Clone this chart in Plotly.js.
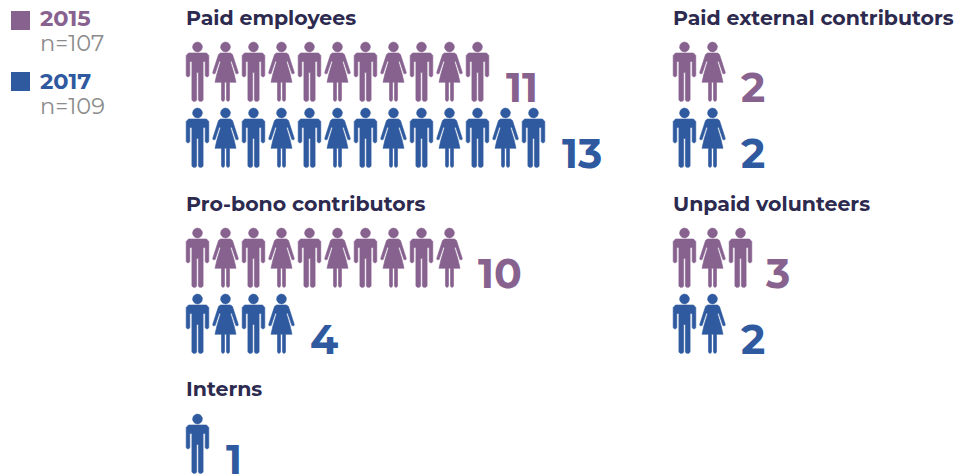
<!DOCTYPE html>
<html><head><meta charset="utf-8">
<script src="https://cdn.plot.ly/plotly-3.0.1.min.js"></script>
<style>html,body{margin:0;padding:0;background:#fff}#c{width:961px;height:474px}</style></head>
<body><div id="c"></div>
<script>
// Data
const categories = ["Paid employees","Pro-bono contributors","Interns","Paid external contributors","Unpaid volunteers"];
const values2015 = [11,10,0,2,3];
const values2017 = [13,4,1,2,2];
const years = ["2015","2017"];
const sampleLabels = ["n=107","n=109"];

// Layout of the panels (in the plot's pixel-sized axis units)
const panelLeft = [186,186,186,673,673];
const titleY = [17,203,388,17,203];
const row2015Y = [47,233,null,47,233];
const row2017Y = [113,299,419,113,299];
const pitch = 28, numberGap = 10;
const PURPLE = "#87628f", BLUE = "#2f5a9f", DARK = "#2d2a4f", GREY = "#8b8b8b";
const FONT = "Montserrat, 'Open Sans', sans-serif";

// Pictogram outlines, relative to the head centre
const manHalf = [[0,6],[9,6],[11.3,8.5],[11.3,28.5],[10.3,29.8],[8.7,29.8],[7.7,28.5],[7.7,14.5],[5.6,14.5],[5.6,53],[4.4,54.3],[2,54.3],[0.9,53],[0.9,25.5],[0,25.5]];
const womanHalf = [[0,6],[5,6],[7,7.5],[12.8,25.5],[12.3,26.8],[10.4,26.6],[6.2,14],[5,15],[8.5,26.5],[10.5,35.3],[4,35.3],[4,53],[3,54.3],[2,54.3],[1,53],[1,35.3],[0,35.3]];
function mirror(h){ return h.concat(h.slice(1,-1).reverse().map(p=>[-p[0],p[1]])); }
const outlines = [mirror(manHalf), mirror(womanHalf)];
const head = []; for(let a=0;a<24;a++){ head.push([4.9*Math.cos(a*Math.PI/12),4.9*Math.sin(a*Math.PI/12)]); }

function peopleTrace(count,left,y,color,name){
  const xs=[],ys=[];
  for(let i=0;i<count;i++){
    const cx=left+11.5+i*pitch;
    [outlines[i%2],head].forEach(o=>{
      o.forEach(p=>{xs.push(cx+p[0]);ys.push(y+p[1]);});
      xs.push(cx+o[0][0]);ys.push(y+o[0][1]);
      xs.push(null);ys.push(null);
    });
  }
  return {type:"scatter",mode:"lines",x:xs,y:ys,fill:"toself",fillcolor:color,line:{width:0.6,color:color},hoverinfo:"skip",showlegend:false,name:name,connectgaps:false};
}
const traces=[], annotations=[];
function txt(x,y,text,size,color,weight){
  annotations.push({x:x,y:y,xref:"x",yref:"y",text:text,showarrow:false,xanchor:"left",yanchor:"middle",align:"left",
    font:{family:FONT,size:size,color:color,weight:weight||400}});
}
function numberX(left,v){ return left+v*pitch+numberGap-(v===3?4:0); }
categories.forEach((c,i)=>{
  txt(panelLeft[i]-2,titleY[i],c,20.5,DARK,700);
  if(values2015[i]>0){
    traces.push(peopleTrace(values2015[i],panelLeft[i],row2015Y[i],PURPLE,c+" 2015"));
    txt(numberX(panelLeft[i],values2015[i]),row2015Y[i]+40,String(values2015[i]),41,PURPLE,700);
  }
  if(values2017[i]>0){
    traces.push(peopleTrace(values2017[i],panelLeft[i],row2017Y[i],BLUE,c+" 2017"));
    txt(numberX(panelLeft[i],values2017[i]),row2017Y[i]+40,String(values2017[i]),41,BLUE,700);
  }
});
// Legend
traces.push({type:"scatter",mode:"markers",x:[20.5,20.5],y:[20.5,81.5],marker:{symbol:"square",size:19,color:[PURPLE,BLUE],line:{width:0}},hoverinfo:"skip",showlegend:false});
txt(38,18,years[0],22.5,PURPLE,700); txt(38,42.5,sampleLabels[0],22.5,GREY,400);
txt(38,81,years[1],22.5,BLUE,700); txt(38,105.5,sampleLabels[1],22.5,GREY,400);

Plotly.newPlot("c",traces,{
  width:961,height:474,margin:{l:0,r:0,t:0,b:0},paper_bgcolor:"#fff",plot_bgcolor:"#fff",
  xaxis:{range:[0,961],visible:false,fixedrange:true},
  yaxis:{range:[474,0],visible:false,fixedrange:true},
  annotations:annotations,showlegend:false
},{displayModeBar:false,staticPlot:true});
</script></body></html>
